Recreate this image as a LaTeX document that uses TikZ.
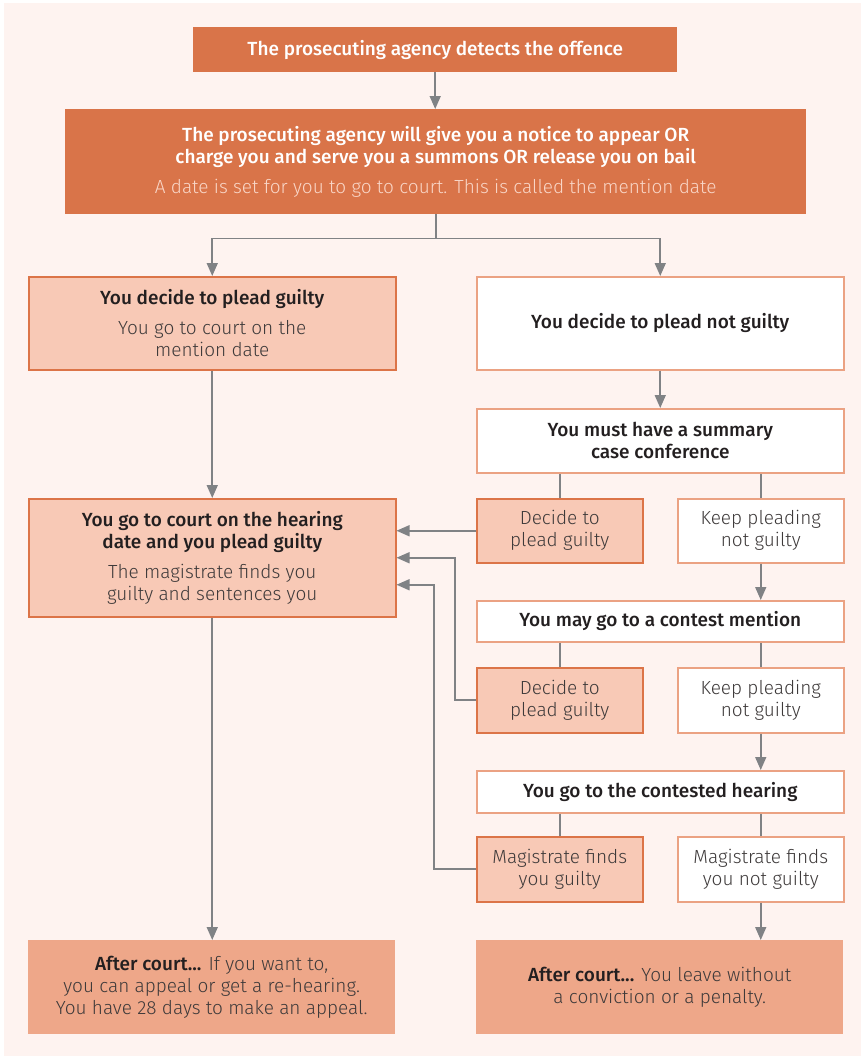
\documentclass[tikz,border=0pt]{standalone}
\usepackage{fontspec}
\setmainfont{Fira Sans}[UprightFont={* Light}, BoldFont={* Medium}]
\usetikzlibrary{arrows.meta}
\definecolor{bg}{HTML}{FEF3F0}
\definecolor{darkor}{HTML}{D97449}
\definecolor{salmon}{HTML}{F8C9B6}
\definecolor{salmonline}{HTML}{DC7448}
\definecolor{whiteline}{HTML}{EBA283}
\definecolor{after}{HTML}{EEA789}
\definecolor{conn}{HTML}{808285}
\definecolor{headtxt}{HTML}{231F20}
\definecolor{bodytxt}{HTML}{3E3A3A}
\definecolor{paletxt}{HTML}{F9D6C7}
\tikzset{
  base/.style={anchor=north west, inner sep=0pt, align=center,
    font=\fontsize{19}{22}\selectfont, text=bodytxt},
  darkbox/.style={base, fill=darkor, text=white},
  guiltybox/.style={base, fill=salmon, draw=salmonline, line width=1.5pt},
  openbox/.style={base, fill=white, draw=whiteline, line width=1.5pt},
  afterbox/.style={base, fill=after},
  conline/.style={draw=conn, line width=1.6pt},
  arr/.style={conline, -{Triangle[length=13pt,width=11pt]}},
}
\newcommand{\hd}[1]{{\bfseries\color{headtxt}#1}}
\begin{document}
\begin{tikzpicture}[x=1pt,y=-1pt]
\useasboundingbox (0,0) rectangle (863,1058);
\fill[white] (0,0) rectangle (863,1058);
\fill[bg] (4,3) rectangle (861,1056);

\node[darkbox, minimum width=484pt, minimum height=45pt] (n1) at (193,27)
  {\bfseries The prosecuting agency detects the offence};
\node[darkbox, minimum width=741pt, minimum height=105pt] (n2) at (65,109)
  {\bfseries The prosecuting agency will give you a notice to appear OR\\
   \bfseries charge you and serve you a summons OR release you on bail\\[8pt]
   \color{paletxt}A date is set for you to go to court. This is called the mention date};

\node[guiltybox, minimum width=367pt, minimum height=93pt] (g1) at (28,276)
  {\hd{You decide to plead guilty}\\[8pt]You go to court on the\\mention date};
\node[openbox, minimum width=367pt, minimum height=93pt] (ng1) at (476,276)
  {\hd{You decide to plead not guilty}};

\node[openbox, minimum width=367pt, minimum height=64pt] (scc) at (476,408)
  {\hd{You must have a summary}\\\hd{case conference}};
\node[guiltybox, minimum width=166pt, minimum height=64pt] (dg1) at (476,498)
  {Decide to\\plead guilty};
\node[openbox, minimum width=166pt, minimum height=64pt] (kp1) at (677,498)
  {Keep pleading\\not guilty};
\node[guiltybox, minimum width=367pt, minimum height=118pt] (hear) at (28,498)
  {\hd{You go to court on the hearing}\\\hd{date and you plead guilty}\\[8pt]
   The magistrate finds you\\guilty and sentences you};

\node[openbox, minimum width=367pt, minimum height=41pt] (cm) at (476,600)
  {\hd{You may go to a contest mention}};
\node[guiltybox, minimum width=166pt, minimum height=65pt] (dg2) at (476,667)
  {Decide to\\plead guilty};
\node[openbox, minimum width=166pt, minimum height=65pt] (kp2) at (677,667)
  {Keep pleading\\not guilty};

\node[openbox, minimum width=367pt, minimum height=42pt] (ch) at (476,770)
  {\hd{You go to the contested hearing}};
\node[guiltybox, minimum width=166pt, minimum height=65pt] (mg) at (476,836)
  {Magistrate finds\\you guilty};
\node[openbox, minimum width=166pt, minimum height=65pt] (mng) at (677,836)
  {Magistrate finds\\you not guilty};

\node[afterbox, minimum width=367pt, minimum height=94pt] (ac1) at (28,940)
  {\hd{After court...} If you want to,\\you can appeal or get a re-hearing.\\You have 28 days to make an appeal.};
\node[afterbox, minimum width=367pt, minimum height=94pt] (ac2) at (476,940)
  {\hd{After court...} You leave without\\a conviction or a penalty.};

% connectors
\draw[arr] (n1.south) -- (n1.south |- n2.north);
\draw[arr] (n2.south) -- ++(0,24) -| (g1.north);
\draw[arr] (n2.south) -- ++(0,24) -| (ng1.north);
\draw[arr] (ng1.south) -- (ng1.south |- scc.north);
\draw[conline] (dg1.north) -- (dg1.north |- scc.south);
\draw[conline] (kp1.north) -- (kp1.north |- scc.south);
\draw[arr] (g1.south) -- (g1.south |- hear.north);
\draw[arr] (dg1.west) -- (dg1.west -| hear.east);
\draw[arr] (kp1.south) -- (kp1.south |- cm.north);
\draw[conline] (dg2.north) -- (dg2.north |- cm.south);
\draw[conline] (kp2.north) -- (kp2.north |- cm.south);
\draw[arr] (dg2.west) -- ++(-21,0) |- (hear.east);
\draw[arr] (kp2.south) -- (kp2.south |- ch.north);
\draw[conline] (mg.north) -- (mg.north |- ch.south);
\draw[conline] (mng.north) -- (mng.north |- ch.south);
\draw[arr] (mg.west) -- ++(-42,0) |- ([yshift=-27pt]hear.east);
\draw[arr] (hear.south) -- (hear.south |- ac1.north);
\draw[arr] (mng.south) -- (mng.south |- ac2.north);
\end{tikzpicture}
\end{document}
